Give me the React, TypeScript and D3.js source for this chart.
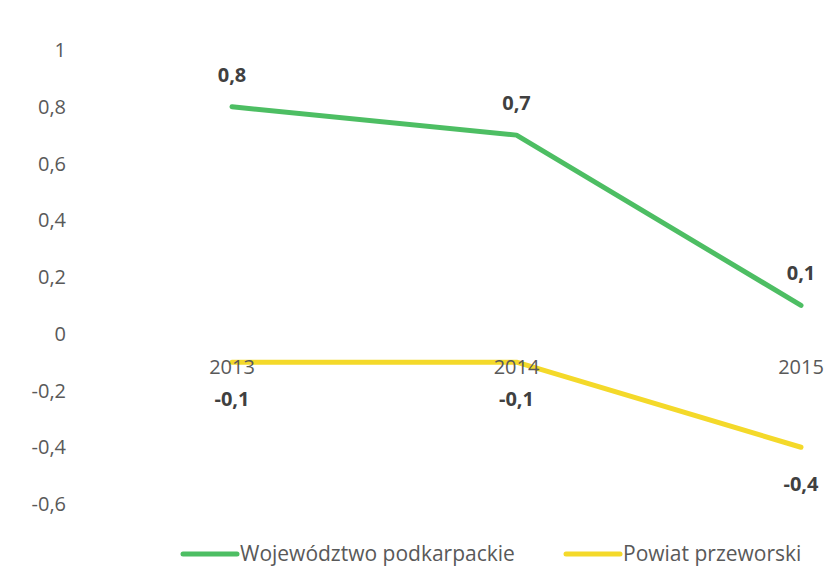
import React from "react";
import * as d3 from "d3";

const categories = ["2013", "2014", "2015"];
const seriesNames = ["Województwo podkarpackie", "Powiat przeworski"];
const wojewodztwo = [0.8, 0.7, 0.1];
const powiat = [-0.1, -0.1, -0.4];
const yTicks = [1, 0.8, 0.6, 0.4, 0.2, 0, -0.2, -0.4, -0.6];
const colors = ["#4DBE63", "#F4D92A"];

const W = 825;
const H = 567;
const fmt = (v: number) => (Math.round(v * 10) / 10).toString().replace(".", ",");

export default function App() {
  const x = d3.scalePoint<string>().domain(categories).range([232, 801]);
  const y = d3.scaleLinear().domain([-0.6, 1]).range([504, 50]);
  const line = d3
    .line<number>()
    .x((_, i) => x(categories[i]) as number)
    .y((d) => y(d));
  const font = "'Open Sans', 'Noto Sans', sans-serif";
  const series = [wojewodztwo, powiat];
  return (
    <svg
      width={W}
      height={H}
      style={{ position: "absolute", left: 0, top: 0, background: "#fff" }}
      fontFamily={font}
    >
      {yTicks.map((t) => (
        <text
          key={t}
          x={66}
          y={y(t)}
          dy="0.35em"
          textAnchor="end"
          fontSize={20}
          fill="#595959"
        >
          {fmt(t)}
        </text>
      ))}
      {series.map((s, k) => (
        <path
          key={k}
          d={line(s) || ""}
          fill="none"
          stroke={colors[k]}
          strokeWidth={5}
          strokeLinecap="round"
          strokeLinejoin="round"
        />
      ))}
      {categories.map((c) => (
        <text
          key={c}
          x={x(c)}
          y={367}
          dy="0.35em"
          textAnchor="middle"
          fontSize={20}
          fill="#595959"
        >
          {c}
        </text>
      ))}
      {wojewodztwo.map((v, i) => (
        <text
          key={"w" + i}
          x={x(categories[i])}
          y={y(v) - 32}
          dy="0.35em"
          textAnchor="middle"
          fontSize={20}
          fontWeight="bold"
          fill="#404040"
        >
          {fmt(v)}
        </text>
      ))}
      {powiat.map((v, i) => (
        <text
          key={"p" + i}
          x={x(categories[i])}
          y={y(v) + 37}
          dy="0.35em"
          textAnchor="middle"
          fontSize={20}
          fontWeight="bold"
          fill="#404040"
        >
          {fmt(v)}
        </text>
      ))}
      {seriesNames.map((n, k) => {
        const lx = k === 0 ? 183 : 566;
        return (
          <g key={n}>
            <line
              x1={lx}
              x2={lx + 54}
              y1={554}
              y2={554}
              stroke={colors[k]}
              strokeWidth={5}
              strokeLinecap="round"
            />
            <text x={lx + 57} y={554} dy="0.35em" fontSize={21} fill="#595959">
              {n}
            </text>
          </g>
        );
      })}
    </svg>
  );
}
